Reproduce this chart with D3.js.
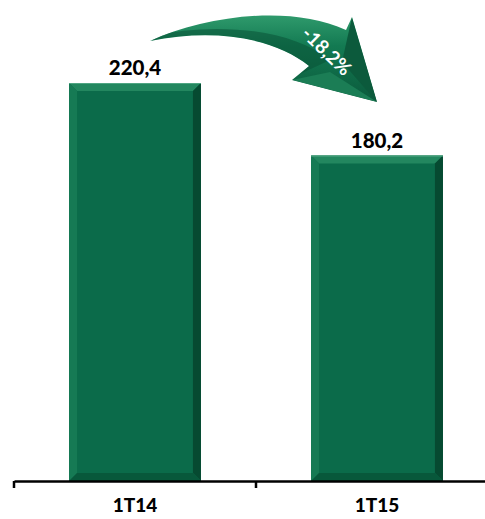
<!DOCTYPE html>
<html><head><meta charset="utf-8">
<script src="https://cdn.jsdelivr.net/npm/d3@7"></script>
<style>body{margin:0;background:#fff}svg{display:block}</style>
</head><body>
<script>
const categories = ["1T14", "1T15"];
const values = [220.4, 180.2];
const valueLabels = ["220,4", "180,2"];
const changeLabel = "-18,2%";

const W = 485, H = 519;
const svg = d3.select("body").append("svg").attr("width", W).attr("height", H);
const defs = svg.append("defs");

const x = d3.scaleBand().domain(categories).range([14, 498]).paddingInner(0.455).paddingOuter(0.2275);
const y = d3.scaleLinear().domain([0, 220.4]).range([481, 83]);

const font = "Lato, 'Open Sans', sans-serif";

// bars with bevel
const g = svg.append("g");
const bw = 8;
categories.forEach((c, i) => {
  const x0 = x(c), x1 = x0 + x.bandwidth(), y0 = y(values[i]), y1 = y(0);
  const bg = g.append("g");
  bg.append("rect").attr("x", x0).attr("y", y0).attr("width", x1 - x0).attr("height", y1 - y0).attr("fill", "#0b6b4a");
  const poly = (pts, fill) => bg.append("polygon").attr("points", pts.map(p => p.join(",")).join(" ")).attr("fill", fill);
  poly([[x0, y0], [x1, y0], [x1 - bw, y0 + bw], [x0 + bw, y0 + bw]], "#23875f");
  poly([[x0, y0], [x0 + bw, y0 + bw], [x0 + bw, y1 - bw], [x0, y1]], "#167a54");
  poly([[x1, y0], [x1, y1], [x1 - bw, y1 - bw], [x1 - bw, y0 + bw]], "#064a31");
  poly([[x0, y1], [x0 + bw, y1 - bw], [x1 - bw, y1 - bw], [x1, y1]], "#08583b");
  bg.append("line").attr("x1", x0).attr("x2", x1).attr("y1", y0 + 0.5).attr("y2", y0 + 0.5).attr("stroke", "#4fa582").attr("stroke-width", 1);
  g.append("text").attr("x", x0 + x.bandwidth() / 2).attr("y", y0 - 8)
    .attr("text-anchor", "middle").attr("font-family", font).attr("font-weight", "900")
    .attr("font-size", 20.5).attr("fill", "#000").text(valueLabels[i]);
});

// axis
const axis = d3.axisBottom(x).tickSize(0).tickPadding(18);
const ag = svg.append("g").attr("transform", "translate(0,481)").call(axis);
ag.select(".domain").attr("stroke", "#000").attr("stroke-width", 2.5);
ag.selectAll("text").attr("font-family", font).attr("font-weight", "900").attr("font-size", 19).attr("fill", "#000");
// boundary ticks
[14, 256].forEach(t => svg.append("line").attr("x1", t).attr("x2", t).attr("y1", 481).attr("y2", 488).attr("stroke", "#000").attr("stroke-width", 2.5));

// curved arrow
const arrowD = "M150,41 C205,16 290,4 346,30 L352,17 L377,102 L292,80 L309,66 C275,38 215,28 150,41 Z";
defs.append("clipPath").attr("id", "ac").append("path").attr("d", arrowD);
const grad = defs.append("linearGradient").attr("id", "ag").attr("x1", "0").attr("y1", "0").attr("x2", "0").attr("y2", "1");
grad.append("stop").attr("offset", "0").attr("stop-color", "#2f9a6c");
grad.append("stop").attr("offset", "0.35").attr("stop-color", "#137a52");
grad.append("stop").attr("offset", "1").attr("stop-color", "#0b5a3c");
const arrow = svg.append("g");
arrow.append("path").attr("d", arrowD).attr("fill", "url(#ag)");
const inner = arrow.append("g").attr("clip-path", "url(#ac)");
inner.append("path")
  .attr("d", "M150,41 C215,28 275,38 309,66 L300,74 L330,60 C290,28 215,22 150,36 Z")
  .attr("fill", "#0a5236").attr("opacity", 0.55);
inner.append("path")
  .attr("d", "M352,17 L377,102 L342,62 Z").attr("fill", "#0c5a3c");
inner.append("path")
  .attr("d", "M292,80 L377,102 L330,72 Z").attr("fill", "#1b7d55");
arrow.append("text").attr("transform", "translate(322,56) rotate(44)")
  .attr("text-anchor", "middle").attr("font-family", font).attr("font-size", 19).attr("font-weight", "bold")
  .attr("fill", "#fff").text(changeLabel);
</script>
</body></html>
